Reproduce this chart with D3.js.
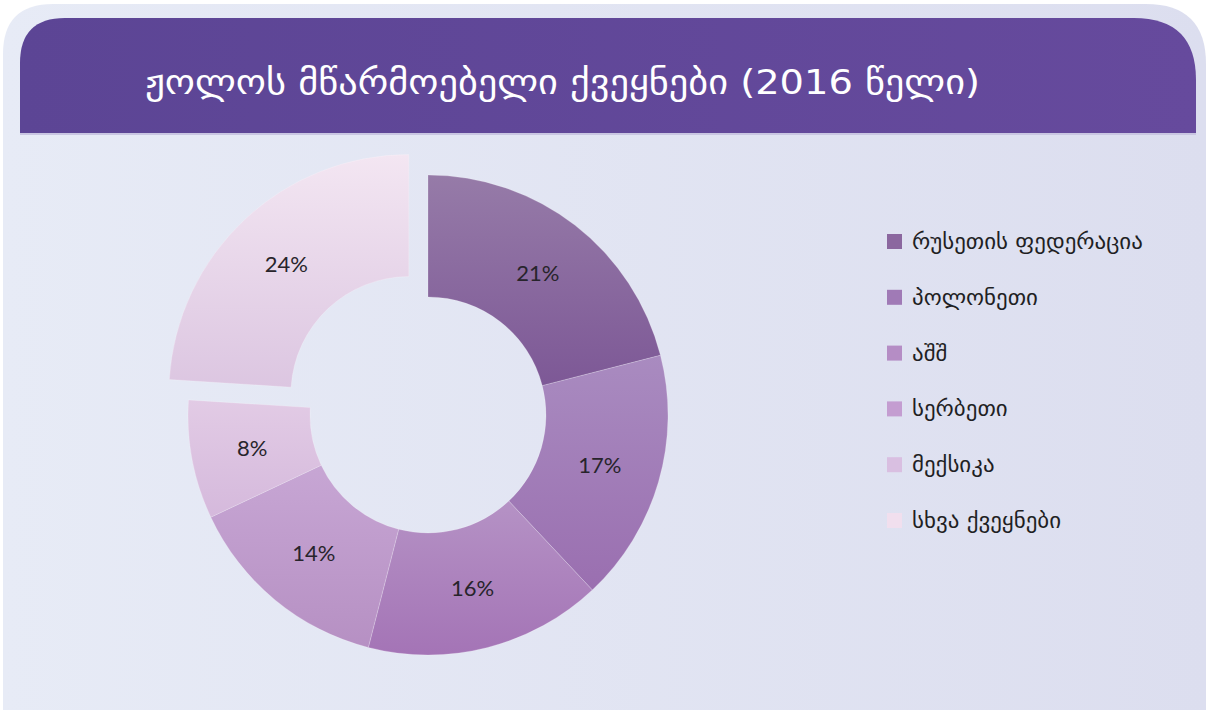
<!DOCTYPE html>
<html>
<head>
<meta charset="utf-8">
<script src="https://cdn.jsdelivr.net/npm/d3@7/dist/d3.min.js"></script>
<style>
  html, body { margin: 0; padding: 0; background: #ffffff; }
  svg { display: block; }
</style>
</head>
<body>
<div id="chart"></div>
<script>
// raspberry producers, share of world output 2016
const title = 'ჟოლოს მწარმოებელი ქვეყნები  (2016 წელი)';
const countries = ['რუსეთის ფედერაცია', 'პოლონეთი', 'აშშ', 'სერბეთი', 'მექსიკა', 'სხვა ქვეყნები'];
const shares = [21, 17, 16, 14, 8, 24];
const explodedIndex = 5;

// slice gradient stops (top -> bottom) and legend swatches
const sliceTop = ['#967ba8', '#a98bc0', '#b592c5', '#c7a6d4', '#e2cbe5', '#f3e6f2'];
const sliceBottom = ['#7d5896', '#9a6fb0', '#a474b6', '#b690c3', '#d5b9dc', '#dcc6e1'];
const legendColors = ['#8b679f', '#a07ab6', '#b58dc5', '#c49dd1', '#d9bfe1', '#f1dfee'];

const W = 1206, H = 711;

const svg = d3.select('#chart').append('svg')
  .attr('width', W)
  .attr('height', H);

const defs = svg.append('defs');

// background panel gradient
const bg = defs.append('linearGradient').attr('id', 'bgGrad')
  .attr('x1', 0).attr('y1', 0).attr('x2', 1).attr('y2', 0);
bg.append('stop').attr('offset', 0).attr('stop-color', '#e7ebf6');
bg.append('stop').attr('offset', 1).attr('stop-color', '#dcdeef');

const hd = defs.append('linearGradient').attr('id', 'hdGrad')
  .attr('x1', 0).attr('y1', 0).attr('x2', 1).attr('y2', 0);
hd.append('stop').attr('offset', 0).attr('stop-color', '#5c4595');
hd.append('stop').attr('offset', 1).attr('stop-color', '#664a9d');

// per slice vertical gradients
shares.forEach((s, i) => {
  const g = defs.append('linearGradient').attr('id', 'slice' + i)
    .attr('x1', 0).attr('y1', 0).attr('x2', 0).attr('y2', 1);
  g.append('stop').attr('offset', 0).attr('stop-color', sliceTop[i]);
  g.append('stop').attr('offset', 1).attr('stop-color', sliceBottom[i]);
});

// outer panel: rounded top, square bottom
function topRounded(x0, y0, x1, y1, rl, rr) {
  return 'M' + x0 + ',' + y1 +
    'L' + x0 + ',' + (y0 + rl) +
    'Q' + x0 + ',' + y0 + ' ' + (x0 + rl) + ',' + y0 +
    'L' + (x1 - rr) + ',' + y0 +
    'Q' + x1 + ',' + y0 + ' ' + x1 + ',' + (y0 + rr) +
    'L' + x1 + ',' + y1 + 'Z';
}

svg.append('path')
  .attr('d', topRounded(3, 4, 1206, 710, 50, 60))
  .attr('fill', 'url(#bgGrad)');

svg.append('path')
  .attr('d', topRounded(20, 18, 1196, 133, 45, 62))
  .attr('fill', 'url(#hdGrad)');

svg.append('line')
  .attr('x1', 20).attr('x2', 1196)
  .attr('y1', 134).attr('y2', 134)
  .attr('stroke', '#c9c6e2').attr('stroke-width', 2);

svg.append('text')
  .attr('x', 145)
  .attr('y', 94)
  .attr('textLength', 835)
  .attr('lengthAdjust', 'spacingAndGlyphs')
  .style('font-family', '"DejaVu Sans Condensed", "DejaVu Sans", sans-serif')
  .style('font-size', '34px')
  .attr('fill', '#ffffff')
  .text(title);

// donut
const cx = 428, cy = 415;
const outerR = 240, innerR = 118, explode = 28;

const pie = d3.pie().sort(null).value(d => d);
const arc = d3.arc().innerRadius(innerR).outerRadius(outerR);
const arcs = pie(shares);

const donut = svg.append('g').attr('transform', 'translate(' + cx + ',' + cy + ')');

function offset(d, i) {
  if (i !== explodedIndex) return [0, 0];
  const a = (d.startAngle + d.endAngle) / 2;
  return [Math.sin(a) * explode, -Math.cos(a) * explode];
}

const slices = donut.selectAll('g.slice')
  .data(arcs)
  .enter()
  .append('g')
  .attr('class', 'slice')
  .attr('transform', (d, i) => 'translate(' + offset(d, i) + ')');

slices.append('path')
  .attr('d', arc)
  .attr('fill', (d, i) => 'url(#slice' + i + ')')
  .attr('stroke', 'rgba(255,255,255,0.25)')
  .attr('stroke-width', 0.8);

slices.append('text')
  .attr('transform', d => 'translate(' + arc.centroid(d) + ')')
  .attr('text-anchor', 'middle')
  .attr('dy', '0.35em')
  .style('font-family', 'Lato, "Open Sans", sans-serif')
  .style('font-size', '22px')
  .attr('fill', '#27242b')
  .text(d => d.data + '%');

// legend
const legend = svg.append('g').attr('transform', 'translate(887,241)');
const rowStep = 55.8;

const items = legend.selectAll('g.item')
  .data(countries)
  .enter()
  .append('g')
  .attr('class', 'item')
  .attr('transform', (d, i) => 'translate(0,' + i * rowStep + ')');

items.append('rect')
  .attr('x', 0).attr('y', -7)
  .attr('width', 15).attr('height', 15)
  .attr('fill', (d, i) => legendColors[i]);

items.append('text')
  .attr('x', 20)
  .attr('y', 0)
  .attr('dy', '0.36em')
  .style('font-family', '"DejaVu Sans Condensed", "DejaVu Sans", sans-serif')
  .style('font-size', '22px')
  .attr('fill', '#1f1f24')
  .text(d => d);

// scale legend text so the longest label spans like the reference (~231px)
const texts = items.selectAll('text');
let longest = 0;
texts.each(function () { longest = Math.max(longest, this.getComputedTextLength()); });
const k = 231 / longest;
texts.attr('transform', 'scale(' + k + ',1)').attr('x', 25 / k);
</script>
</body>
</html>
